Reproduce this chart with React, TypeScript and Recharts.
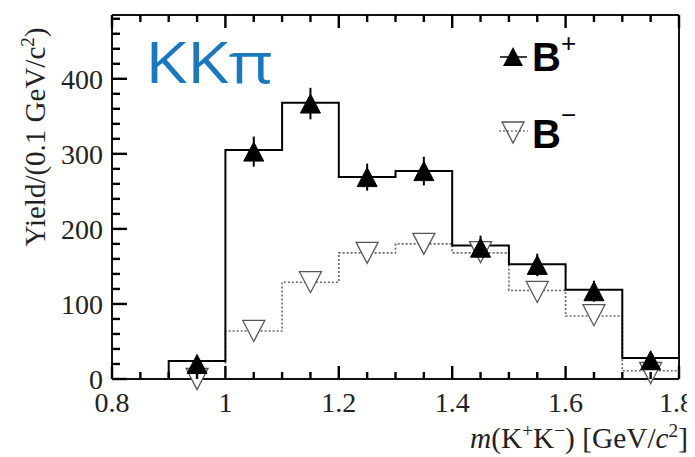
import React from 'react';
import { ComposedChart, Line, Scatter, XAxis, YAxis, ErrorBar } from 'recharts';

// Histogram bin edges (GeV/c^2) and bin contents
const binEdges = [0.8, 0.9, 1.0, 1.1, 1.2, 1.3, 1.4, 1.5, 1.6, 1.7, 1.8];
const histPlus = [0, 24, 305, 368, 269, 277, 178, 153, 119, 28, 28];
const histMinus = [null, 0, 64, 129, 168, 180, 168, 118, 84, 11, 11];

// Measured points at bin centres
const binCenters = [0.95, 1.05, 1.15, 1.25, 1.35, 1.45, 1.55, 1.65, 1.75];
const pointsPlus = [20, 303, 367, 269, 277, 175, 152, 117, 25];
const errPlus = [10, 20, 21, 18, 19, 16, 15, 14, 10];
const pointsMinus = [0, 64, 129, 168, 180, 169, 116, 85, 8];

// Axis ticks
const xTicks = [0.8, 0.85, 0.9, 0.95, 1.0, 1.05, 1.1, 1.15, 1.2, 1.25, 1.3, 1.35, 1.4, 1.45, 1.5, 1.55, 1.6, 1.65, 1.7, 1.75, 1.8];
const xMajor = [0.8, 1.0, 1.2, 1.4, 1.6, 1.8];
const yTicks = [0, 20, 40, 60, 80, 100, 120, 140, 160, 180, 200, 220, 240, 260, 280, 300, 320, 340, 360, 380, 400, 420, 440, 460, 480];
const yMajor = [0, 100, 200, 300, 400];

const X_MIN = 0.8;
const X_MAX = 1.8;
const Y_MIN = 0;
const Y_MAX = 485;

const edgeData = binEdges.map((x, i) => ({ x, plus: histPlus[i], minus: histMinus[i] }));
const plusData = binCenters.map((x, i) => ({ x, y: pointsPlus[i], err: errPlus[i] }));
const minusData = binCenters.map((x, i) => ({ x, y: pointsMinus[i] }));

const FRAME = '#111';
const TICK = '#000';
const TW = 2.4;
const SERIF = '"Liberation Serif", "Times New Roman", serif';
const SANS = '"Liberation Sans", Arial, sans-serif';

const isXMajor = (v: number) => xMajor.some((m) => Math.abs(m - v) < 1e-6);
const fmtX = (v: number) => (Math.abs(v - 1) < 1e-6 ? '1' : String(v));

const BottomTick = (props: any) => {
  const { x, y, payload } = props;
  const major = isXMajor(payload.value);
  const len = major ? 13 : 7;
  const last = Math.abs(payload.value - X_MAX) < 1e-6;
  return (
    <g>
      <rect x={x - TW / 2} y={y - len} width={TW} height={len} fill={TICK} />
      {major && (
        <text
          x={last ? x + 15 : x}
          y={y + 33}
          textAnchor={last ? 'end' : 'middle'}
          fontFamily={SERIF}
          fontSize={28}
          fill="#222"
        >
          {fmtX(payload.value)}
        </text>
      )}
    </g>
  );
};

const TopTick = (props: any) => {
  const { x, y, payload } = props;
  const len = isXMajor(payload.value) ? 13 : 7;
  return <rect x={x - TW / 2} y={y} width={TW} height={len} fill={TICK} />;
};

const LeftTick = (props: any) => {
  const { x, y, payload } = props;
  const major = yMajor.includes(payload.value);
  const len = major ? 15 : 8;
  return (
    <g>
      <rect x={x} y={y - TW / 2} width={len} height={TW} fill={TICK} />
      {major && (
        <text x={x - 9} y={y + 10} textAnchor="end" fontFamily={SERIF} fontSize={28} fill="#222">
          {payload.value}
        </text>
      )}
    </g>
  );
};

const RightTick = (props: any) => {
  const { x, y, payload } = props;
  const len = yMajor.includes(payload.value) ? 15 : 8;
  return <rect x={x - len} y={y - TW / 2} width={len} height={TW} fill={TICK} />;
};

const UpTriangle = (props: any) => {
  const { cx, cy } = props;
  if (cx == null || cy == null) return null;
  const w = 20;
  const h = 19;
  return (
    <polygon
      points={`${cx - w / 2},${cy + h / 2} ${cx + w / 2},${cy + h / 2} ${cx},${cy - h / 2}`}
      fill="#000"
      stroke="#000"
      strokeWidth={1}
    />
  );
};

const DownTriangle = (props: any) => {
  const { cx, cy } = props;
  if (cx == null || cy == null) return null;
  const w = 22;
  const h = 21;
  return (
    <polygon
      points={`${cx - w / 2},${cy - h / 2} ${cx + w / 2},${cy - h / 2} ${cx},${cy + h / 2}`}
      fill="#fff"
      stroke="#555"
      strokeWidth={1.3}
    />
  );
};

export default function App() {
  return (
    <div style={{ position: 'relative', width: 695, height: 457, marginLeft: -8, marginTop: -8 }}>
      <svg
        width={695}
        height={457}
        style={{ position: 'absolute', left: 0, top: 0, pointerEvents: 'none', zIndex: 0 }}
      >
        <text
          x={145}
          y={83}
          textLength={128}
          lengthAdjust="spacingAndGlyphs"
          fontFamily={'"Open Sans", "DejaVu Sans", sans-serif'}
          fontSize={57}
          fill="#1b78bd"
        >
          KKπ
        </text>
        <line x1={500} x2={527} y1={57} y2={57} stroke="#000" strokeWidth={1.5} />
        <polygon points="503,66 523,66 513,47" fill="#000" />
        <text x={532} y={71} fontFamily={SANS} fontWeight="bold" fontSize={40} fill="#000">
          B
        </text>
        <text x={561} y={52} fontFamily={SANS} fontSize={26} fill="#000">
          +
        </text>
        <line x1={499} x2={528} y1={131} y2={131} stroke="#777" strokeWidth={1.3} strokeDasharray="2 2" />
        <polygon points="502,122 524,122 513,143" fill="none" stroke="#555" strokeWidth={1.3} />
        <text x={532} y={148} fontFamily={SANS} fontWeight="bold" fontSize={40} fill="#000">
          B
        </text>
        <text x={561} y={124} fontFamily={SANS} fontSize={26} fill="#000">
          −
        </text>
        <text
          x={470}
          y={448}
          textLength={218}
          lengthAdjust="spacingAndGlyphs"
          fontFamily={SERIF}
          fontSize={29}
          fill="#222"
        >
          <tspan fontStyle="italic">m</tspan>
          <tspan>(K</tspan>
          <tspan dy={-11} fontSize={19}>+</tspan>
          <tspan dy={11}>K</tspan>
          <tspan dy={-11} fontSize={19}>−</tspan>
          <tspan dy={11}>) [GeV/</tspan>
          <tspan fontStyle="italic">c</tspan>
          <tspan dy={-11} fontSize={19}>2</tspan>
          <tspan dy={11}>]</tspan>
        </text>
        <text
          x={45}
          y={137}
          transform="rotate(-90, 45, 137)"
          textAnchor="middle"
          fontFamily={SERIF}
          fontSize={29}
          fill="#222"
        >
          <tspan>Yield/(0.1 GeV/c</tspan>
          <tspan dy={-11} fontSize={19}>2</tspan>
          <tspan dy={11}>)</tspan>
        </text>
      </svg>
      <div style={{ position: 'absolute', left: 0, top: 0, zIndex: 1 }}>
        <ComposedChart
          width={695}
          height={457}
          data={edgeData}
          margin={{ top: 14, right: 15, bottom: 0, left: 0 }}
        >
          <XAxis
            xAxisId="b"
            type="number"
            dataKey="x"
            domain={[X_MIN, X_MAX]}
            ticks={xTicks}
            interval={0}
            tickSize={0}
            tickMargin={0}
            tickLine={false}
            axisLine={{ stroke: FRAME, strokeWidth: 2 }}
            tick={(p: any) => <BottomTick {...p} />}
            height={78}
          />
          <XAxis
            xAxisId="t"
            orientation="top"
            type="number"
            dataKey="x"
            domain={[X_MIN, X_MAX]}
            ticks={xTicks}
            interval={0}
            tickSize={0}
            tickMargin={0}
            tickLine={false}
            axisLine={{ stroke: FRAME, strokeWidth: 2 }}
            tick={(p: any) => <TopTick {...p} />}
            height={1}
          />
          <YAxis
            yAxisId="l"
            type="number"
            domain={[Y_MIN, Y_MAX]}
            ticks={yTicks}
            interval={0}
            tickSize={0}
            tickMargin={0}
            tickLine={false}
            axisLine={{ stroke: FRAME, strokeWidth: 2 }}
            tick={(p: any) => <LeftTick {...p} />}
            width={112}
          />
          <YAxis
            yAxisId="r"
            orientation="right"
            type="number"
            domain={[Y_MIN, Y_MAX]}
            ticks={yTicks}
            interval={0}
            tickSize={0}
            tickMargin={0}
            tickLine={false}
            axisLine={{ stroke: FRAME, strokeWidth: 2 }}
            tick={(p: any) => <RightTick {...p} />}
            width={1}
          />
          <Line
            xAxisId="b"
            yAxisId="l"
            type="stepAfter"
            dataKey="minus"
            stroke="#666"
            strokeWidth={1.6}
            strokeDasharray="2 2"
            dot={false}
            activeDot={false}
            isAnimationActive={false}
          />
          <Line
            xAxisId="b"
            yAxisId="l"
            type="stepAfter"
            dataKey="plus"
            stroke="#000"
            strokeWidth={2}
            dot={false}
            activeDot={false}
            isAnimationActive={false}
          />
          <Scatter
            xAxisId="b"
            yAxisId="l"
            data={minusData}
            dataKey="y"
            shape={(p: any) => <DownTriangle {...p} />}
            isAnimationActive={false}
          />
          <Scatter
            xAxisId="b"
            yAxisId="l"
            data={plusData}
            dataKey="y"
            shape={(p: any) => <UpTriangle {...p} />}
            isAnimationActive={false}
          >
            <ErrorBar dataKey="err" direction="y" width={0} stroke="#000" strokeWidth={2} isAnimationActive={false} />
          </Scatter>
        </ComposedChart>
      </div>
    </div>
  );
}
